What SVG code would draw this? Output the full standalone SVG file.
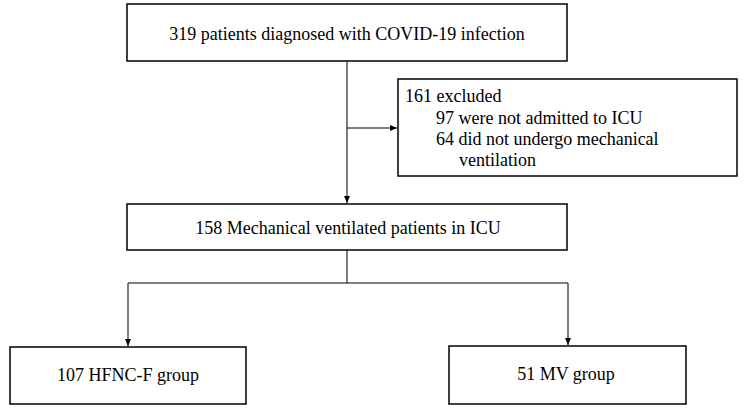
<svg xmlns="http://www.w3.org/2000/svg" width="744" height="409" viewBox="0 0 744 409">
<defs>
<marker id="ah" markerWidth="8" markerHeight="8" refX="7" refY="4" orient="auto" markerUnits="userSpaceOnUse">
<path d="M0,1 L7,4 L0,7 Z" fill="#000"/>
</marker>
<style>
.box{fill:#fff;stroke:#000;stroke-width:1.5}
.t{font-family:"Liberation Serif","Times New Roman",serif;font-size:18px;fill:#000}
.c{fill:none;stroke:#000;stroke-width:1}
</style>
</defs>
<rect width="744" height="409" fill="#fff"/>
<g id="connectors">
<line class="c" x1="347" y1="61" x2="347" y2="203" marker-end="url(#ah)"/>
<line class="c" x1="347" y1="128" x2="397" y2="128" marker-end="url(#ah)"/>
<polyline class="c" points="347,250 347,283 128,283 128,346" marker-end="url(#ah)"/>
<polyline class="c" points="347,283 568,283 568,345" marker-end="url(#ah)"/>
</g>
<g id="n1">
<rect class="box" x="127" y="4" width="440" height="57"/>
<text class="t" x="347" y="40" text-anchor="middle">319 patients diagnosed with COVID-19 infection</text>
</g>
<g id="n2">
<rect class="box" x="398" y="79" width="339" height="97"/>
<text class="t" x="405" y="102">161 excluded</text>
<text class="t" x="436" y="124">97 were not admitted to ICU</text>
<text class="t" x="436" y="145">64 did not undergo mechanical</text>
<text class="t" x="459" y="166">ventilation</text>
</g>
<g id="n3">
<rect class="box" x="127" y="204" width="440" height="46"/>
<text class="t" x="348" y="234" text-anchor="middle">158 Mechanical ventilated patients in ICU</text>
</g>
<g id="n4">
<rect class="box" x="10" y="347" width="236" height="57"/>
<text class="t" x="128" y="381" text-anchor="middle">107 HFNC-F group</text>
</g>
<g id="n5">
<rect class="box" x="449" y="346" width="237" height="58"/>
<text class="t" x="566" y="380" text-anchor="middle">51 MV group</text>
</g>
</svg>
